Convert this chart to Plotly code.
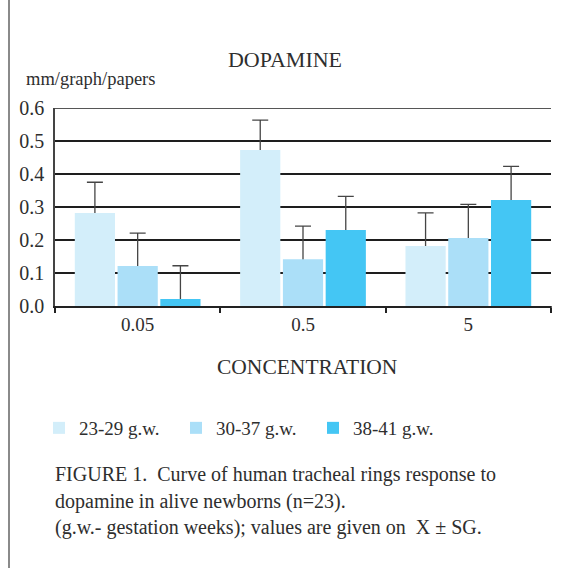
import plotly.graph_objects as go

categories = ["0.05", "0.5", "5"]
series_names = ["23-29 g.w.", "30-37 g.w.", "38-41 g.w."]
values_23_29 = [0.282, 0.473, 0.182]
values_30_37 = [0.121, 0.142, 0.206]
values_38_41 = [0.021, 0.230, 0.321]
err_23_29 = [0.093, 0.090, 0.100]
err_30_37 = [0.100, 0.100, 0.102]
err_38_41 = [0.101, 0.102, 0.102]
colors = ["#d3eefa", "#abdff8", "#44c6f4"]
Y_MAX = 0.6

W, H = 570, 568
L, R, T, B = 55, 19, 108, 262
pw, ph = W - L - R, H - T - B


def px_x(x):
    return (x - L) / pw


def px_y(y):
    return (H - B - y) / ph


FONT = "Liberation Serif"
TXT = "#2e2e2e"

all_vals = [values_23_29, values_30_37, values_38_41]
all_errs = [err_23_29, err_30_37, err_38_41]

fig = go.Figure()
# error-bar carriers (drawn first, lower half hidden behind the real bars)
for i, (name, vals, errs) in enumerate(zip(series_names, all_vals, all_errs)):
    fig.add_trace(go.Bar(
        x=categories, y=vals, name=name, offsetgroup=str(i), showlegend=False, hoverinfo="skip",
        marker=dict(color="rgba(0,0,0,0)", line=dict(width=0)),
        error_y=dict(type="data", array=errs, color="#454545", thickness=1.3, width=8),
    ))
# real bars
for i, (name, vals, col) in enumerate(zip(series_names, all_vals, colors)):
    fig.add_trace(go.Bar(
        x=categories, y=vals, name=name, offsetgroup=str(i),
        marker=dict(color=col, line=dict(width=0)),
    ))

fig.update_layout(
    width=W, height=H,
    margin=dict(l=L, r=R, t=T, b=B),
    paper_bgcolor="white", plot_bgcolor="white",
    barmode="group", bargap=0.224, bargroupgap=0.06,
    font=dict(family=FONT, color=TXT, size=19),
    title=dict(text="DOPAMINE", x=px_x(285), xref="paper", xanchor="center", y=1 - 59.5 / H,
               yanchor="middle", font=dict(family=FONT, size=22, color=TXT)),
    showlegend=True,
    legend=dict(orientation="h", x=px_x(39), y=px_y(428), xanchor="left", yanchor="middle",
                font=dict(family=FONT, size=19, color=TXT), entrywidth=92, traceorder="normal",
                bgcolor="rgba(0,0,0,0)"),
    xaxis=dict(type="category", showgrid=False, showline=True, linecolor="#222222", linewidth=2,
               ticks="outside", tickson="boundaries", ticklen=5, tickcolor="#222222", tickwidth=1.5,
               tickfont=dict(family=FONT, size=19, color=TXT)),
    yaxis=dict(range=[0, Y_MAX], dtick=0.1, tickformat=".1f", showgrid=True, gridcolor="#1e1e1e",
               gridwidth=1.5, showline=True, linecolor="#444444", linewidth=1.5, zeroline=False,
               ticks="", ticklabelstandoff=5, tickfont=dict(family=FONT, size=20, color=TXT)),
    shapes=[
        dict(type="line", xref="paper", yref="paper", x0=px_x(9), x1=px_x(9), y0=px_y(0), y1=px_y(H),
             line=dict(color="#8a8a8a", width=2)),
        dict(type="line", xref="paper", yref="paper", x0=1, x1=1, y0=px_y(306), y1=px_y(311),
             line=dict(color="#222222", width=1.5)),
        dict(type="line", xref="paper", yref="y", x0=0, x1=1, y0=Y_MAX, y1=Y_MAX,
             line=dict(color="#1e1e1e", width=1.5), layer="below"),
    ],
    annotations=[
        dict(text="mm/graph/papers", xref="paper", yref="paper", x=px_x(24), y=px_y(79),
             xanchor="left", yanchor="middle", showarrow=False,
             font=dict(family=FONT, size=18.5, color=TXT)),
        dict(text="CONCENTRATION", xref="paper", yref="paper", x=px_x(307), y=px_y(367),
             xanchor="center", yanchor="middle", showarrow=False,
             font=dict(family=FONT, size=21.5, color=TXT)),
        dict(text="FIGURE 1.  Curve of human tracheal rings response to", xref="paper", yref="paper",
             x=px_x(53), y=px_y(474), xanchor="left", yanchor="middle", showarrow=False,
             font=dict(family=FONT, size=20, color=TXT)),
        dict(text="dopamine in alive newborns (n=23).", xref="paper", yref="paper",
             x=px_x(53), y=px_y(501), xanchor="left", yanchor="middle", showarrow=False,
             font=dict(family=FONT, size=20, color=TXT)),
        dict(text="(g.w.- gestation weeks); values are given on  X ± SG.", xref="paper", yref="paper",
             x=px_x(53), y=px_y(527), xanchor="left", yanchor="middle", showarrow=False,
             font=dict(family=FONT, size=20, color=TXT)),
    ],
)

fig.write_html("out.html", config={"displayModeBar": False},
               post_script="document.body.style.margin='0';")
